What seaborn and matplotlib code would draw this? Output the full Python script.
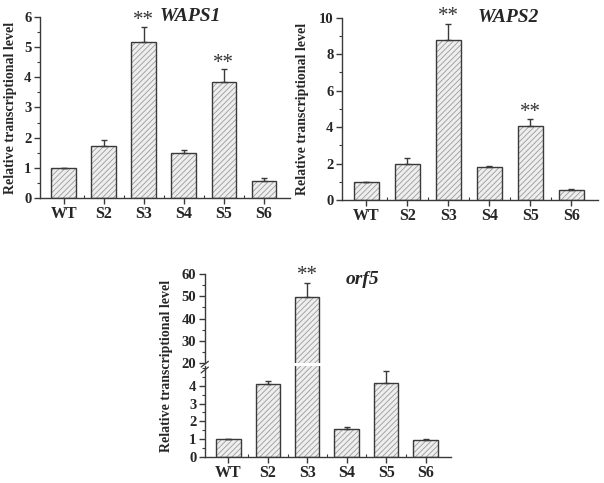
import numpy as np
import matplotlib
matplotlib.use("Agg")
import matplotlib.pyplot as plt
from matplotlib.ticker import MultipleLocator
import seaborn as sns
import pandas as pd

samples = ["WT", "S2", "S3", "S4", "S5", "S6"]

waps1_mean = [1.0, 1.73, 5.18, 1.49, 3.83, 0.56]
waps1_err = [0.0, 0.20, 0.49, 0.10, 0.44, 0.12]
waps1_sig = ["", "", "**", "", "**", ""]

waps2_mean = [1.0, 2.0, 8.81, 1.82, 4.07, 0.57]
waps2_err = [0.0, 0.31, 0.88, 0.07, 0.37, 0.05]
waps2_sig = ["", "", "**", "", "**", ""]

orf5_mean = [1.01, 4.11, 49.8, 1.59, 4.15, 0.96]
orf5_err = [0.0, 0.18, 6.1, 0.09, 0.68, 0.05]
orf5_sig = ["", "", "**", "", "", ""]

sns.set_style("ticks")
plt.rcParams["font.family"] = ["Liberation Serif", "DejaVu Serif"]
plt.rcParams["font.weight"] = "bold"
plt.rcParams["hatch.linewidth"] = 0.6

FILL = "#eeeeee"
HATCH_COL = "#9a9a9a"
EDGE = "#3a3a3a"


def draw_bars(ax, means, errs, sigs, ylim, major, minor, sig_off):
    df = pd.DataFrame({"sample": samples, "value": means})
    # hatched fill first, then outline on top
    sns.barplot(data=df, x="sample", y="value", ax=ax, color=FILL,
                edgecolor=HATCH_COL, linewidth=0, hatch="//////", width=0.62,
                saturation=1, errorbar=None)
    sns.barplot(data=df, x="sample", y="value", ax=ax, fill=False,
                edgecolor=EDGE, linewidth=1.0, width=0.62, errorbar=None)
    ax.errorbar(range(len(samples)), means,
                yerr=[np.zeros(len(errs)), errs], fmt="none",
                ecolor=EDGE, elinewidth=1.0, capsize=2.5, capthick=1.0)
    for i, s in enumerate(sigs):
        if s:
            ax.text(i, means[i] + errs[i] + sig_off, s, ha="center",
                    va="center", fontsize=15, fontweight="normal",
                    color="#333333")
    ax.set_ylim(*ylim)
    ax.set_xlim(-0.6, 5.65)
    ax.yaxis.set_major_locator(MultipleLocator(major))
    ax.yaxis.set_minor_locator(MultipleLocator(minor))
    ax.set_xticks(range(len(samples)))
    ax.set_xticks(np.arange(0.5, 5.5, 1), minor=True)
    ax.set_xlabel("")
    ax.set_ylabel("")
    ax.tick_params(axis="x", which="major", labelsize=11.5, length=4,
                   width=1, color=EDGE, pad=2)
    ax.tick_params(axis="y", which="major", labelsize=10.5, length=4,
                   width=1, color=EDGE, pad=2)
    ax.tick_params(axis="both", which="minor", length=2, width=0.8,
                   color=EDGE)
    ax.tick_params(axis="x", which="minor", direction="in")
    for lab in ax.get_xticklabels() + ax.get_yticklabels():
        lab.set_fontweight("bold")
    sns.despine(ax=ax)
    for sp in ["left", "bottom"]:
        ax.spines[sp].set_linewidth(1.0)
        ax.spines[sp].set_color(EDGE)


fig = plt.figure(figsize=(6.04, 4.83), dpi=100)

ax1 = fig.add_axes([0.066, 0.590, 0.414, 0.375])
draw_bars(ax1, waps1_mean, waps1_err, waps1_sig, (0, 6), 1, 0.5, 0.2)
ax1.text(0.60, 1.0, "WAPS1", transform=ax1.transAxes, ha="center",
         va="center", fontsize=14, fontweight="bold", style="italic")
ax1.set_ylabel("Relative transcriptional level", fontsize=10,
               fontweight="bold", labelpad=5)

ax2 = fig.add_axes([0.566, 0.586, 0.424, 0.377])
draw_bars(ax2, waps2_mean, waps2_err, waps2_sig, (0, 10), 2, 1, 0.38)
ax2.text(0.65, 1.0, "WAPS2", transform=ax2.transAxes, ha="center",
         va="center", fontsize=14, fontweight="bold", style="italic")
ax2.set_ylabel("Relative transcriptional level", fontsize=10,
               fontweight="bold", labelpad=7)

# orf5 with a broken y axis: 0-5.1 below, 20-60 above
ax3b = fig.add_axes([0.339, 0.054, 0.408, 0.188])
draw_bars(ax3b, orf5_mean, orf5_err, ["", "", "", "", "", ""], (0, 5.1),
          1, 0.5, 0)
ax3b.set_yticks([0, 1, 2, 3, 4])

ax3t = fig.add_axes([0.339, 0.248, 0.408, 0.185])
draw_bars(ax3t, orf5_mean, orf5_err, orf5_sig, (20, 60), 10, 5, 3.2)
ax3t.spines["bottom"].set_visible(False)
ax3t.tick_params(axis="x", which="both", bottom=False, labelbottom=False)
ax3t.text(0.64, 0.94, "orf5", transform=ax3t.transAxes, ha="center",
          va="center", fontsize=14, fontweight="bold", style="italic")

# break marks on the left spine
for dy in (-0.012, 0.0):
    fig.add_artist(plt.Line2D([0.333, 0.345], [0.240 + dy, 0.252 + dy],
                              color=EDGE, lw=0.9))

fig.text(0.276, 0.242, "Relative transcriptional level", rotation=90,
         ha="center", va="center", fontsize=10, fontweight="bold")

fig.savefig("out.png", dpi=100, facecolor="white")
